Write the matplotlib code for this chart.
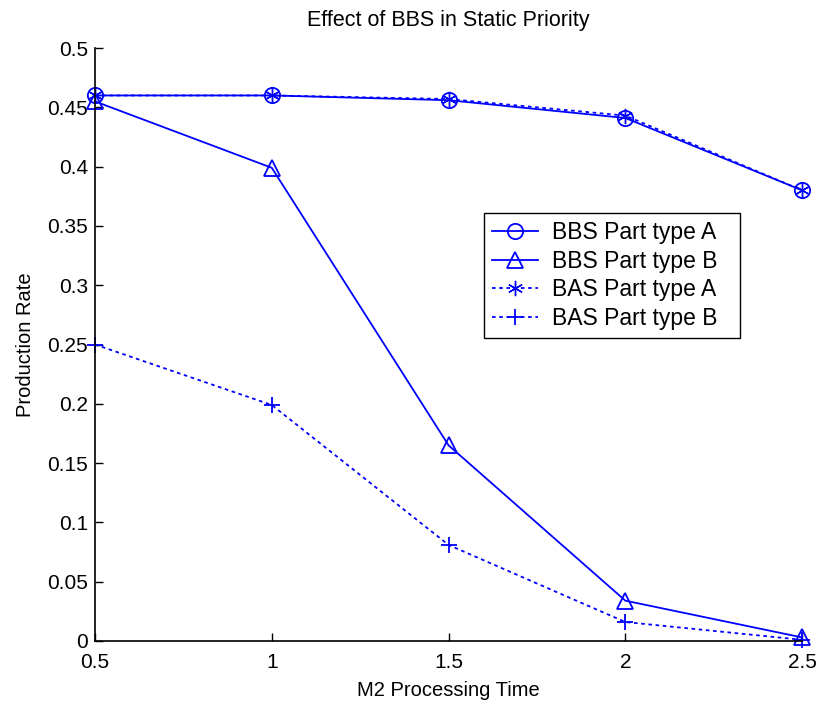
import matplotlib
matplotlib.use("Agg")
import matplotlib.pyplot as plt
from matplotlib.patches import Rectangle

plt.rcParams['font.family'] = ['Liberation Sans', 'DejaVu Sans']

m2_time = [0.5, 1.0, 1.5, 2.0, 2.5]
bbs_a = [0.460, 0.460, 0.456, 0.441, 0.380]
bbs_b = [0.455, 0.399, 0.165, 0.034, 0.003]
bas_a = [0.460, 0.460, 0.457, 0.443, 0.380]
bas_b = [0.250, 0.199, 0.081, 0.016, 0.001]

labels = ["BBS Part type A", "BBS Part type B", "BAS Part type A", "BAS Part type B"]
xticks = [0.5, 1, 1.5, 2, 2.5]
yticks = [0, 0.05, 0.1, 0.15, 0.2, 0.25, 0.3, 0.35, 0.4, 0.45, 0.5]

W, H = 816, 702
fig = plt.figure(figsize=(W / 100, H / 100), dpi=100)
ax = fig.add_axes([0.1164, 0.0869, 0.8666, 0.8447])

blue = '#0000ff'
dots = (0, (2.0, 2.0))
ax.plot(m2_time, bbs_a, '-', color=blue, lw=1.3, marker='o', ms=11,
        mfc='none', mec=blue, mew=1.3, label=labels[0], clip_on=False)
ax.plot(m2_time, bbs_b, '-', color=blue, lw=1.3, marker='^', ms=12,
        mfc='none', mec=blue, mew=1.3, label=labels[1], clip_on=False)
ax.plot(m2_time, bas_a, linestyle=dots, color=blue, lw=1.3, marker=(6, 2, 0),
        ms=11, mec=blue, mew=1.0, label=labels[2], clip_on=False)
ax.plot(m2_time, bas_b, linestyle=dots, color=blue, lw=1.3, marker='+',
        ms=12, mec=blue, mew=1.3, label=labels[3], clip_on=False)

ax.set_xlim(0.5, 2.5)
ax.set_ylim(0, 0.5)
ax.set_xticks(xticks)
ax.set_xticklabels(['0.5', '1', '1.5', '2', '2.5'])
ax.set_yticks(yticks)
ax.set_yticklabels(['0', '0.05', '0.1', '0.15', '0.2', '0.25', '0.3',
                    '0.35', '0.4', '0.45', '0.5'])
ax.tick_params(direction='in', length=6, width=1, labelsize=15)
ax.tick_params(axis='x', pad=9)
ax.tick_params(axis='y', pad=5)
ax.spines['top'].set_visible(False)
ax.spines['right'].set_visible(False)
for s in ('left', 'bottom'):
    ax.spines[s].set_linewidth(1.2)

ax.set_xlabel('M2 Processing Time', fontsize=14.5, labelpad=6)
ax.set_ylabel('Production Rate', fontsize=14.5, labelpad=9)
ax.set_title('Effect of BBS in Static Priority', fontsize=15.5, pad=16)

# legend box, drawn as its own frame so it can be a bit wider than the entries
box_l, box_t, box_w, box_h = 484, 213, 256, 125
ax.add_patch(Rectangle((box_l / W, 1 - (box_t + box_h) / H), box_w / W, box_h / H,
                       transform=fig.transFigure, facecolor='white',
                       edgecolor='black', lw=1.0, zorder=4.5, clip_on=False))
leg = ax.legend(loc='upper left', bbox_to_anchor=(box_l / W, 1 - box_t / H),
                bbox_transform=fig.transFigure, borderaxespad=0,
                fontsize=16.5, frameon=False, handlelength=2.0,
                handletextpad=0.6, borderpad=0.35, labelspacing=0.25)

fig.savefig('out.png', dpi=100)
